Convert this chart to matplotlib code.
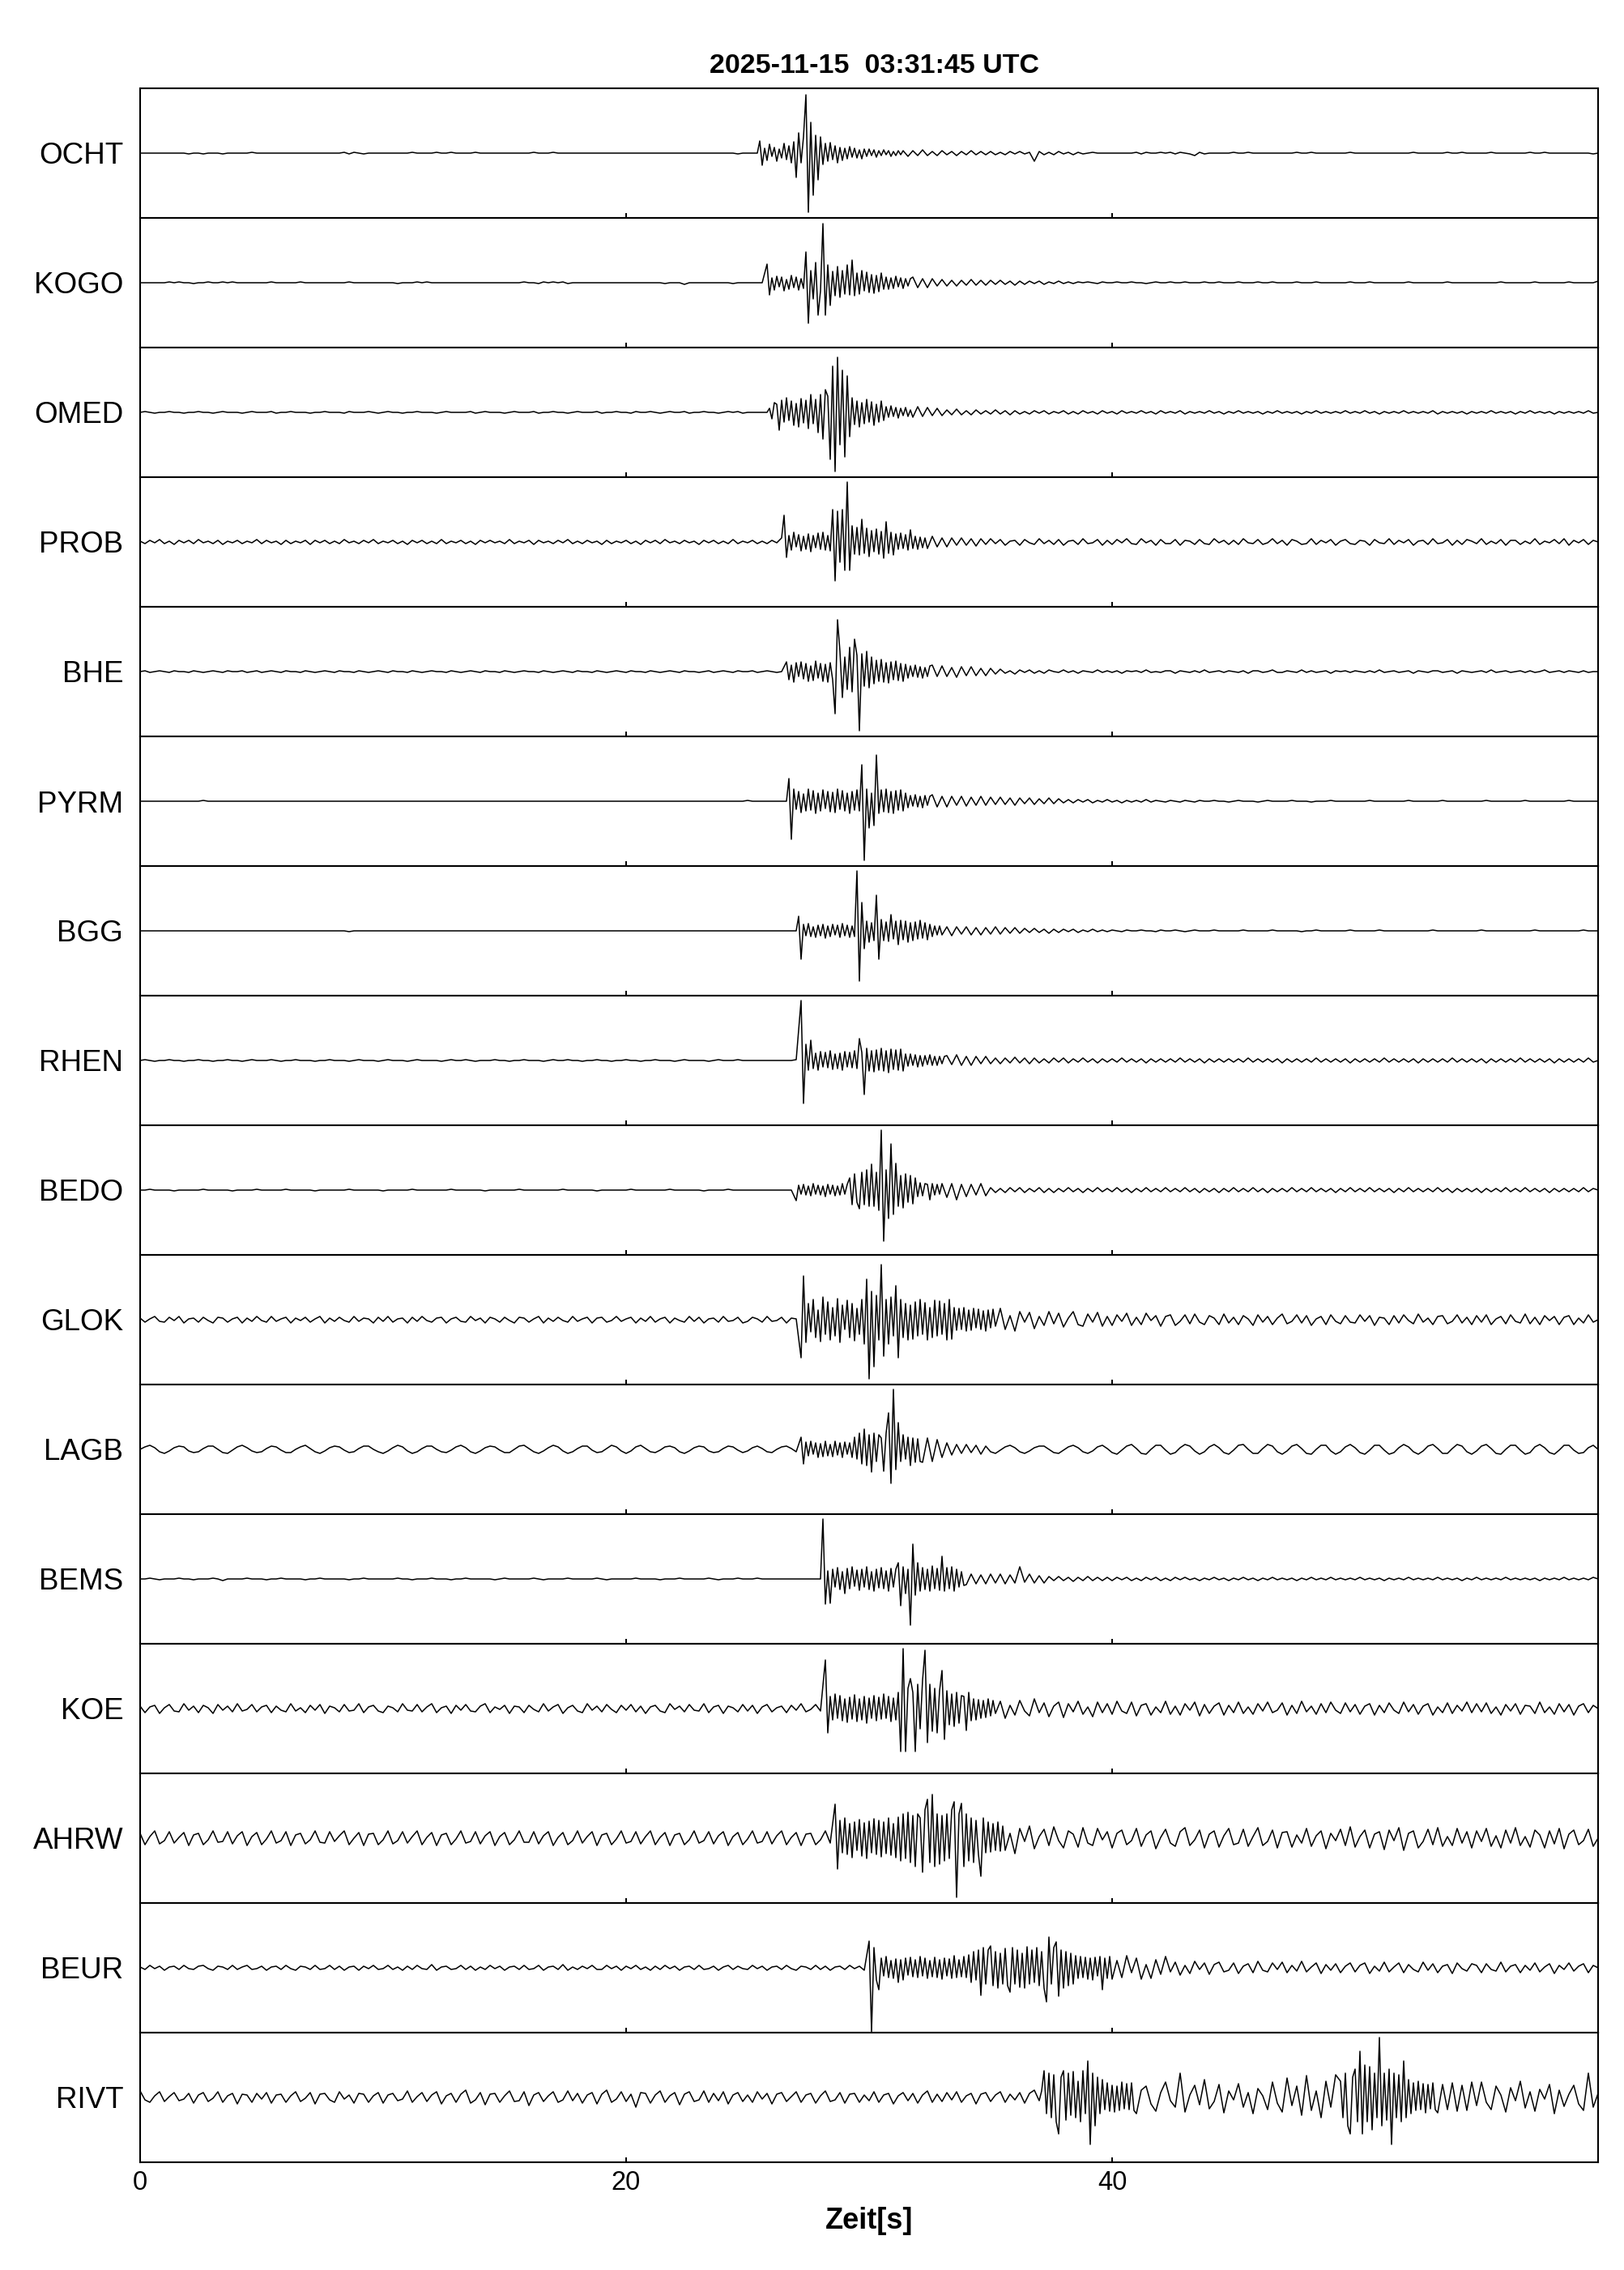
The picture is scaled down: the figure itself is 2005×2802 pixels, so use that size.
import numpy as np
import matplotlib
matplotlib.use("Agg")
import matplotlib.pyplot as plt

TITLE = "2025-11-15  03:31:45 UTC"
XLABEL = "Zeit[s]"
XTICKS = [0, 20, 40]
T_END = 60.0
DT_FINE = 0.1
STATIONS = ["OCHT", "KOGO", "OMED", "PROB", "BHE", "PYRM", "BGG", "RHEN",
            "BEDO", "GLOK", "LAGB", "BEMS", "KOE", "AHRW", "BEUR", "RIVT"]

# Trace deflections, one value every 0.2 s from 0 to 60 s
# (units: pixels of the original image, panel half-height = 80)
OCHT = [
 0,0,0,0,0, 0,0,0,0,0, -1,0,0,-1,0, 0,0,-1,0,0, 0,0,0,1,0,
 0,0,0,0,0, 0,0,0,0,0, 0,0,0,0,0, 0,0,1,-1,1, 0,-1,0,0,0,
 0,0,0,0,0, 0,1,0,0,0, 0,1,0,0,1, 0,0,0,0,1, 0,0,0,0,0,
 0,0,0,0,0, 0,1,0,0,0, 1,0,0,0,0, 0,0,0,0,0, 0,0,0,0,0,
 0,0,0,0,0, 0,0,0,0,0, 0,0,0,0,0, 0,0,0,0,0, 0,0,0,-1,0,
 0,0,13,-15,9, -7,8,-9,5,12, -30,25,72,-73,38, -52,20,-33,15,-12, 11,-10,8,-9,7,
 -6,5,-6,4,-5, 5,-4,3,-4,3, -3,4,-3,2,-3, 3,-2,2,-3,2, -2,3,-2,2,-2,
 2,-2,1,-2,2, -1,2,-1,1,-10, 2,-2,1,-2,2, -1,1,-2,1,-1, 0,1,0,0,0,
 0,0,0,0,0, 1,-1,1,0,0, 1,0,1,-1,1, 0,-1,-3,1,-1, 0,0,0,0,0,
 1,0,0,1,0, 0,0,0,0,0, 0,0,0,1,0, 0,1,0,0,0, 0,0,0,0,1,
 0,0,0,0,0, 0,0,0,0,0, 0,0,1,0,0, 0,0,0,0,1, 0,0,1,0,0,
 0,0,0,1,0, 0,0,0,0,0, 0,1,0,0,1, 0,0,0,0,0, 0,0,0,0,-1,
 0]

KOGO = [
 0,0,0,0,0, 0,1,0,1,0, 0,-1,0,0,1, 0,0,1,0,1, 0,0,0,0,0,
 0,0,1,0,0, 0,0,0,1,0, 0,0,0,0,0, 0,0,0,1,0, 0,0,0,0,0,
 0,0,0,-1,0, 0,0,1,0,1, 0,0,0,0,0, 0,0,0,0,0, 0,0,0,0,0,
 0,0,0,0,1, 0,0,-1,1,0, 1,0,1,-1,0, 0,0,0,0,0, 0,0,0,0,0,
 0,0,0,0,0, 0,0,0,-1,0, 0,0,-2,0,0, 0,0,0,0,0, 0,0,-1,0,0,
 0,0,0,0,23, -15,8,-9,7,-8, 9,-7,38,-50,22, -40,73,-38,22,-28, 20,-18,28,-15,14,
 -13,12,-12,14,-10, 9,-9,8,-8,7, -6,5,-6,5,-4, 4,-4,3,-4,3, -3,4,-3,3,-3,
 3,-2,3,-2,2, -3,2,-2,2,-1, 2,-2,1,-1,2, -1,1,-1,1,0, 1,0,-1,1,0,
 0,1,0,0,1, 0,0,-1,0,1, 0,0,1,0,0, 1,0,0,0,1, 0,0,1,0,0,
 0,1,0,0,0, 1,0,0,1,0, 0,0,0,1,0, 0,0,1,0,0, 0,0,0,0,1,
 0,0,0,1,0, 0,0,0,0,0, 0,1,0,0,0, 0,0,0,0,1, 0,0,0,0,0,
 0,0,0,0,0, 1,0,0,0,0, 0,0,1,0,0, 0,0,0,0,1, 0,0,0,0,0,
 2]

OMED = [
 0,1,0,-1,0, 0,1,0,0,-1, 0,0,1,0,0, -1,0,1,0,0, 0,-1,0,1,0,
 0,0,1,-1,0, 0,1,0,0,0, -1,0,0,1,0, 0,0,-1,1,0, 0,0,1,0,-1,
 0,1,0,0,-1, 0,0,1,0,0, 0,-1,0,1,0, 0,0,0,1,-1, 0,1,0,0,0,
 -1,0,1,0,0, 0,1,-1,0,0, 1,0,0,-1,0, 1,0,0,0,1, -1,0,0,1,0,
 0,-1,1,0,0, 1,0,-1,0,1, 0,0,1,-1,0, 0,1,0,0,-1, 0,1,0,1,-1,
 0,0,0,0,1, 12,-15,22,-22,15, -18,17,-14,18,-20, 22,-33,30,-58,68, -73,57,-45,30,-18,
 17,-15,14,-18,12, -10,8,-7,6,-6, 7,-5,6,-4,5, -4,3,-3,4,-3, 2,-3,3,-2,2,
 -2,3,-2,2,-3, 2,-2,1,-2,2, -1,2,-2,1,-1, 2,-2,1,-2,2, -1,1,-2,2,-1,
 1,-2,2,-1,1, -1,2,-1,1,-2, 2,-1,1,-1,2, -2,1,-1,1,-1, 2,-1,1,-2,1,
 -1,2,-1,1,-1, 1,-2,1,-1,2, -1,1,-1,1,-2, 1,-1,2,-1,1, -1,1,-1,2,-1,
 1,-1,2,-1,1, -2,1,-1,1,-1, 2,-1,1,-1,1, -1,2,-2,1,-1, 1,-1,1,-2,1,
 -1,1,-1,2,-1, 1,-1,1,-2,1, -1,2,-1,1,-1, 1,-2,1,-1,1, -1,1,-1,2,-1,
 0]

PROB = [
 1,-2,2,-1,3, -2,1,-3,2,-1, 2,-2,3,-1,1, -2,2,-3,1,-1, 2,-2,1,-1,3,
 -2,2,-1,1,-3, 2,-2,1,-1,2, -3,2,-1,2,-2, 1,-2,3,-1,1, -2,2,-1,3,-2,
 1,-1,2,-2,1, -3,2,-1,2,-2, 1,-2,3,-2,1, -1,2,-2,1,-3, 2,-1,2,-1,1,
 -2,3,-2,1,-1, 2,-3,2,-1,1, -2,2,-1,3,-2, 1,-2,2,-1,1, -3,2,-2,1,-1,
 2,-2,1,-3,2, -1,2,-2,3,-1, 1,-2,2,-1,1, -3,2,-1,2,-2, 1,-2,3,-2,1,
 -1,2,-2,1,-2, 2,-1,33,-19,10, -9,11,-12,8,-10, 9,-12,10,40,-48, 74,-35,20,-15,28,
 -14,12,-16,25,-20, 14,-12,10,-11,8, -9,17,-8,7,-6, 5,-6,5,-4,5, -4,4,-5,4,-3,
 4,-2,3,-4,1, 2,-4,3,-1,-3, 4,-2,2,-3,3, -4,1,2,-3,4, -2,-1,3,-4,2,
 -3,3,-1,4,-2, -3,4,-1,2,-4, 3,-2,-2,3,-4, 2,1,-3,3,-2, -3,4,-1,2,-3,
 2,-3,4,-1,-2, 3,-3,-1,4,-2, 2,-4,3,1,-3, -2,4,-3,2,-1, 3,-4,1,3,-2,
 -3,2,1,-4,3, -1,-2,4,-3,2, -1,3,-4,1,2, -3,4,-2,-1,3, -4,2,-3,3,1,
 -2,4,-3,1,-2, 3,-4,2,2,-3, 1,-2,4,-3,1, -1,3,-2,4,-4, 2,-1,3,-3,2,
 0]

BHE = [
 0,1,-1,0,1, 0,-1,1,0,0, -1,1,0,-1,0, 1,0,-1,1,0, 0,1,-1,0,1,
 -1,0,1,0,-1, 1,0,0,-1,1, 0,-1,0,1,0, -1,1,0,0,-1, 1,0,-1,0,1,
 0,-1,1,0,0, -1,1,0,-1,0, 1,0,0,-1,1, 0,-1,0,1,0, -1,1,0,0,-1,
 1,0,-1,0,1, 0,0,-1,1,0, -1,0,1,0,-1, 1,0,0,-1,1, 0,-1,0,1,0,
 -1,1,0,0,-1, 1,0,-1,0,1, 0,-1,1,0,0, -1,0,1,-1,0, 1,0,-1,1,0,
 0,1,-1,0,1, 0,-1,0,12,-10, 11,-12,10,-13,12, -11,13,-12,64,-52, 30,-32,40,-73,20,
 -20,15,-14,12,-15, 13,-10,11,-8,7, -8,6,-7,8,-6, 7,-6,5,-7,6, -5,6,-5,4,-5,
 4,-3,3,-2,1, -3,2,-1,2,-2, 1,-2,2,0,-1, 2,-1,1,-2,1, 0,-1,2,-1,1,
 -1,1,-2,1,0, 1,-1,2,-1,0, -1,1,1,-2,1, 0,-1,1,-1,2, -1,0,1,-1,1,
 0,-1,1,-2,1, 1,-1,0,2,-1, -1,1,0,-1,2, -1,1,-1,0,1, -2,1,0,1,-1,
 1,0,-1,1,-1, 2,-1,0,1,-1, 0,1,-2,1,0, -1,1,1,-1,0, 1,-2,1,0,-1,
 0,1,-1,2,-1, 0,1,-1,0,1, -1,1,-1,0,2, -1,0,1,-1,1, 0,-1,1,-1,0,
 0]

PYRM = [
 0,0,0,0,0, 0,0,0,0,0, 0,0,0,1,0, 0,0,0,0,0, 0,0,0,0,0,
 0,0,0,0,0, 0,0,0,0,0, 0,0,0,0,0, 0,0,0,0,0, 0,0,0,0,0,
 0,0,0,0,0, 0,0,0,0,0, 0,0,0,0,0, 0,0,0,0,0, 0,0,0,0,0,
 0,0,0,0,0, 0,0,0,0,0, 0,0,0,0,0, 0,0,0,0,0, 0,0,0,0,0,
 0,0,0,0,0, 0,0,0,0,0, 0,0,0,0,0, 0,0,0,0,0, 0,0,0,0,0,
 1,0,0,0,0, 0,0,0,28,-47, 15,-12,14,-10,13, -15,11,-13,14,-12, 12,-14,15,-12,45,
 -73,57,-33,15,-15, 14,-13,12,-8,7, -8,7,-6,8,-7, 6,-7,6,-5,6, -6,5,-5,6,-5,
 5,-4,5,-4,4, -5,4,-3,4,-4, 3,-3,4,-3,3, -2,2,-2,2,-1, 2,-2,1,-1,2,
 -1,1,-2,1,-1, 1,-1,2,-1,1, 0,-1,1,0,-1, 1,0,-1,1,0, 0,1,0,0,-1,
 0,1,0,0,0, -1,0,1,0,0, 0,0,1,0,0, 0,-1,0,0,0, 1,0,0,0,0,
 0,0,0,1,0, 0,0,0,0,0, 0,1,0,0,0, 0,0,0,1,0, 0,0,0,0,0,
 0,0,1,0,0, 0,0,0,0,0, 1,0,0,0,0, 0,0,0,0,1, 0,0,0,0,0,
 0]

BGG = [
 0,0,0,0,0, 0,0,0,0,0, 0,0,0,0,0, 0,0,0,0,0, 0,0,0,0,0,
 0,0,0,0,0, 0,0,0,0,0, 0,0,0,0,0, 0,0,0,-1,0, 0,0,0,0,0,
 0,0,0,0,0, 0,0,0,0,0, 0,0,0,0,0, 0,0,0,0,0, 0,0,0,0,0,
 0,0,0,0,0, 0,0,0,0,0, 0,0,0,0,0, 0,0,0,0,0, 0,0,0,0,0,
 0,0,0,0,0, 0,0,0,0,0, 0,0,0,0,0, 0,0,0,0,0, 0,0,0,0,0,
 0,0,0,0,0, 0,0,0,0,0, 18,-35,8,-7,9, -8,7,-9,8,-6, 8,-7,74,-62,35,
 -22,44,-35,12,20, -17,12,-13,11,-12, 10,-11,10,-9,6, -5,5,-6,5,-4, 5,-5,4,-5,4,
 -4,5,-4,4,-3, 4,-3,3,-2,3, -2,2,-3,2,-2, 2,-1,2,-2,1, -1,2,-1,1,-1,
 1,0,-1,1,0, 0,1,0,0,-1, 1,0,0,1,0, -1,0,1,0,0, 0,1,0,0,0,
 0,0,1,0,0, 0,0,0,1,0, 0,0,0,0,-1, 0,0,1,0,0, 0,0,0,0,1,
 0,0,0,0,0, 1,0,0,0,0, 0,0,0,0,0, 0,1,0,0,0, 0,0,0,0,0,
 0,1,0,0,0, 0,0,0,0,0, 0,0,1,0,0, 0,0,0,0,0, 0,0,1,0,0,
 0]

RHEN = [
 0,1,0,-1,0, 0,1,0,0,-1, 0,0,1,0,0, -1,0,0,1,0, 0,-1,0,1,0,
 0,0,1,0,-1, 0,0,1,0,0, 0,-1,0,0,1, 0,0,0,-1,0, 1,0,0,0,-1,
 0,1,0,0,0, -1,0,1,0,0, 0,0,-1,0,1, 0,0,1,0,-1, 0,0,0,1,0,
 0,-1,0,0,1, 0,0,0,-1,0, 1,0,0,1,0, 0,-1,0,0,1, 0,0,-1,0,0,
 1,0,0,-1,0, 0,1,0,0,0, -1,0,1,0,0, 0,0,-1,0,1, 0,0,0,1,0,
 0,0,0,0,0, 0,0,0,0,0, 1,74,-53,25,-12, 10,-11,12,-10,9, -12,11,-9,27,-42,
 15,-13,12,-14,13, -12,15,-13,8,-7, 8,-6,7,-8,6, -7,6,-5,7,-6, 5,-6,5,-4,5,
 -4,3,-4,3,-3, 4,-3,3,-4,3, -3,2,-3,3,-2, 3,-3,2,-2,3, -2,2,-3,2,-2,
 2,-2,3,-2,2, -2,2,-3,2,-2, 2,-2,2,-2,3, -2,2,-2,2,-3, 2,-2,2,-2,2,
 -2,2,-2,3,-2, 2,-2,2,-2,2, -3,2,-2,2,-2, 2,-2,3,-2,2, -2,2,-2,2,-3,
 2,-2,2,-2,2, -2,3,-2,2,-2, 2,-2,2,-3,2, -2,2,-2,2,-2, 3,-2,2,-2,2,
 -2,2,-3,2,-2, 2,-2,2,-2,3, -2,2,-2,2,-2, 2,-3,2,-2,2, -2,2,-2,3,-2,
 0]

BEDO = [
 0,0,1,0,0, 0,0,-1,0,0, 0,0,0,1,0, 0,0,0,0,-1, 0,0,0,0,1,
 0,0,0,0,0, 1,0,0,0,0, 0,-1,0,0,0, 0,0,0,1,0, 0,0,0,0,0,
 -1,0,0,0,0, 0,1,0,0,0, 0,0,0,0,1, 0,0,0,0,0, 0,-1,0,0,0,
 0,0,0,1,0, 0,0,0,0,0, 0,0,1,0,0, 0,0,0,0,-1, 0,0,0,0,0,
 0,1,0,0,0, 0,0,0,0,1, 0,0,0,0,0, 0,-1,0,0,0, 0,1,0,0,0,
 0,0,0,0,0, 0,0,0,0,0, -13,6,-5,7,-6, 5,-7,6,-5,6, -6,15,-18,20,-23,
 32,-20,22,74,-63, 57,-35,33,-30,20, -22,9,-8,8,-7, 8,-9,8,-12,7, -8,7,-6,8,-7,
 3,-3,2,-3,3, -2,3,-3,2,-2, 3,-3,2,-3,2, -2,3,-2,2,-3, 2,-2,3,-2,2,
 -2,3,-2,2,-3, 2,-2,3,-2,2, -2,3,-2,2,-2, 3,-2,2,-3,2, -2,2,-3,2,-2,
 3,-2,2,-2,3, -2,2,-3,2,-2, 2,-2,3,-2,2, -2,3,-2,2,-2, 2,-3,2,-2,3,
 -2,2,-2,3,-2, 2,-2,2,-3,2, -2,3,-2,2,-2, 2,-2,3,-2,2, -3,2,-2,2,-2,
 2,-3,2,-2,2, -2,3,-2,2,-2, 3,-2,2,-2,2, -3,2,-2,2,-2, 2,-2,3,-2,2,
 0]

GLOK = [
 2,-3,1,4,-2, -3,3,-1,4,-4, 1,2,-3,3,-1, -4,3,2,-3,1, 3,-4,2,-2,4,
 -1,-3,4,-2,1, 3,-4,2,-1,3, -3,1,4,-4,2, -2,3,-1,-3,4, -2,2,1,-4,3,
 -2,4,-3,1,2, -4,3,-2,4,-1, -3,2,3,-4,1, 3,-2,-3,4,-1, 2,-4,3,1,-3,
 3,-1,-4,3,2, -3,1,4,-4,2, -2,3,-1,-3,4, -2,1,3,-4,2, 3,-3,-1,4,-2,
 1,3,-4,2,-2, 4,-3,1,3,-4, 2,-1,-3,4,-2, 3,-4,1,2,-3, 4,-2,-1,3,-4,
 -2,3,1,-3,4, -2,-1,3,-4,2, 1,-47,54,-28,25, -27,28,-22,26,-28, 22,-26,24,-25,50,
 -73,40,-58,68,-45, 42,-47,25,-22,23, -25,20,-22,24,-20, 21,-23,25,-24,15, -13,14,-12,15,-14,
 13,-8,14,-12,5, -14,10,-3,9,-11, 4,-7,10,-5,8, -9,2,10,-6,-8, 7,-3,9,-8,4,
 -7,6,-2,8,-7, 3,-6,8,-1,5, -8,4,6,-7,-2, 6,-5,7,-3,-6, 5,2,-6,7,-4,
 3,-6,5,1,-7, 6,-3,4,-6,2, 7,-5,-2,6,-4, 5,-7,1,4,-6, 6,-2,-5,5,-3,
 -4,6,-2,5,-7, 3,2,-6,5,-4, 6,-1,-5,7,-3, 2,-6,4,5,-5, -2,6,-4,3,-6,
 5,-3,6,-6,1, 4,-5,6,-2,-4, 7,-5,3,-6,5, -1,4,-6,3,5, -6,2,-4,6,-3,
 0]

LAGB = [
 0,3,5,2,-3, -5,-2,2,4,3, -2,-4,-3,1,4, 4,0,-4,-5,-1, 3,5,2,-2,-4,
 -3,1,4,3,-1, -4,-4,0,3,5, 1,-3,-5,-2,2, 4,3,-1,-4,-3, 1,4,4,0,-3,
 -5,-2,2,5,3, -2,-5,-3,1,4, 4,0,-3,-4,-1, 3,5,2,-3,-5, -2,2,4,3,-1,
 -4,-4,0,4,5, 1,-3,-5,-2,2, 5,3,-2,-5,-3, 1,4,4,-1,-4, -3,1,5,3,-2,
 -5,-2,3,5,1, -3,-4,-1,3,4, 2,-3,-5,-2,2, 4,3,-2,-4,-3, 1,4,3,-1,-4,
 -2,2,4,1,-3, -4,0,3,4,1, -3,15,-18,9,-8, 10,-9,8,-10,9, -8,10,-15,16,-20,
 18,-28,20,-27,45, -42,74,-25,33,-20, 15,-16,14,-15,12, -10,8,-7,6,-5, 6,-4,5,-6,4,
 -3,-5,-1,3,5, 2,-3,-5,-2,2, 4,4,0,-4,-5, -1,3,5,2,-3, -5,-2,3,5,1,
 -4,-6,-1,4,6, 1,-5,-6,0,5, 5,-1,-6,-4,2, 6,4,-2,-6,-3, 3,6,2,-4,-6,
 -1,5,6,0,-5, -5,1,6,4,-3, -6,-2,4,6,1, -5,-6,0,5,5, -2,-6,-3,3,6,
 2,-4,-6,-1,5, 5,-1,-6,-4,2, 6,3,-3,-6,-2, 4,6,1,-5,-5, 1,6,4,-3,-6,
 -2,4,6,1,-5, -6,0,5,5,-1, -6,-4,3,6,2, -4,-6,-1,5,5, -1,-5,-4,2,5,
 0]

BEMS = [
 0,0,1,0,-1, 0,0,0,1,0, 0,-1,0,0,0, 1,0,-2,0,0, 0,0,1,0,0,
 0,-1,0,0,1, 0,0,0,0,-1, 0,0,1,0,0, 0,0,0,-1,0, 0,1,0,0,0,
 0,0,0,1,0, 0,-1,0,0,0, 1,0,0,0,-1, 0,0,1,0,0, 0,0,0,-1,0,
 1,0,0,0,0, 0,1,0,-1,0, 0,0,0,1,0, 0,0,0,0,1, 0,-1,0,0,0,
 0,0,1,0,0, 0,0,-1,0,0, 0,1,0,0,0, 0,0,1,0,-1, 0,0,0,1,0,
 0,0,1,0,0, 0,0,0,0,0, 0,0,0,0,0, -1,74,-31,12,-15, 14,-12,13,-18,15,
 -14,12,-13,14,-12, 13,20,-33,15,-57, 43,-15,14,-13,12, 28,-15,14,-15,12, -7,6,-6,5,-6,
 6,-5,6,-6,5, -5,15,-4,6,-5, 4,-5,3,-2,3, -2,2,-3,2,-2, 3,-2,2,-2,2,
 -2,2,-1,2,-2, 1,-2,2,-1,2, -2,1,-2,2,-1, 2,-1,1,-2,1, -1,2,-1,1,-2,
 1,-1,2,-1,1, -2,1,-1,2,-1, 1,-1,1,-2,1, -1,2,-1,1,-1, 2,-1,1,-1,1,
 -1,2,-1,1,-1, 1,-2,1,-1,1, -1,2,-1,1,-1, 1,-1,2,-1,1, -1,1,-2,1,-1,
 2,-1,1,-1,1, -1,2,-1,1,-1, 1,-1,1,-2,1, -1,1,-1,2,-1, 1,-1,1,-1,2,
 0]

KOE = [
 3,-5,2,4,-6, 1,5,-3,-4,6, -2,3,-5,4,1, -6,5,-2,3,-4, 6,-3,-1,5,-4,
 2,4,-5,3,-2, -4,6,-3,1,-5, 4,-2,5,-6,3, 1,-4,5,-3,-2, 6,-5,2,4,-3,
 -5,3,1,-4,6, -2,-3,5,-4,2, 6,-5,1,3,-6, 4,-2,5,-3,-4, 3,6,-5,2,-1,
 4,-6,3,2,-5, 4,-1,-4,6,-3, 2,5,-6,1,4, -3,-5,6,-2,3, -4,5,-1,-5,4,
 -2,5,-4,3,-6, 2,4,-3,-5,6, -1,3,-4,5,-2, -3,6,-5,2,4, -6,3,1,-4,5,
 -3,4,-6,2,5, -4,1,3,-5,4, -2,6,-4,-1,5, -3,60,-30,15,-14, 16,-12,17,-15,14,
 -16,13,-17,15,-12, 16,-53,74,-53,37, -53,72,-42,30,-28, 47,-38,22,-20,18, -27,20,-15,12,-10,
 11,-6,9,-12,4, -8,10,-3,-9,12, -5,7,-10,3,8, -11,6,-4,9,-7, 2,-10,8,-5,6,
 -7,9,-3,-6,8, -9,4,6,-8,2, -5,9,-7,3,-8, 6,-2,8,-9,5, -6,3,7,-8,4,
 -5,8,-6,2,-7, 6,-3,8,-5,-2, 7,-8,4,-6,9, -4,3,-7,6,-5, 8,-2,-6,7,-4,
 5,-7,3,6,-8, 4,-5,7,-2,-6, 8,-4,5,-7,3, 6,-8,2,-5,7, -6,4,-3,8,-5,
 6,-4,7,-6,2, -8,5,-3,6,-7, 4,3,-6,8,-5, 2,-7,6,-4,5, -8,3,6,-5,4,
 0]

AHRW = [
 6,-8,2,9,-7, -3,8,-6,1,7, -9,4,6,-8,-2, 9,-5,-4,8,-7, 3,8,-9,2,7,
 -8,-1,9,-6,-3, 8,-9,4,6,-7, -2,9,-5,-6,8, -4,3,9,-8,0, 7,-9,5,6,-8,
 -2,9,-7,-3,8, -6,2,9,-8,1, 7,-9,4,6,-8, -1,9,-6,-4,8, -7,3,8,-9,2,
 7,-8,-2,9,-5, -5,8,-7,3,8, -9,1,7,-8,-3, 9,-6,2,8,-9, 4,6,-8,-1,9,
 -6,-4,8,-7,2, 9,-8,1,7,-9, 4,6,-8,-2,9, -6,-3,8,-7,3, 8,-9,2,7,-8,
 -1,9,-6,-4,8, -7,3,9,-8,1, 7,-9,5,6,-8, -2,9,-6,42,-38, 22,-24,20,-23,25,
 -21,24,-22,20,-25, 23,-30,32,-28,30, -42,48,-35,54,-30, 35,-28,45,-73,43, -30,30,-25,20,-47,
 18,-10,22,-15,6, -19,12,-4,15,-13, 2,11,-9,14,-3, -12,9,5,-11,13, -6,-9,12,-2,8,
 -12,6,10,-8,-3, 12,-10,4,9,-13, 1,11,-6,-10,8, 13,-9,-2,10,-12, 5,9,-11,3,12,
 -8,-6,11,-10,2, 13,-9,-4,10,-12, 7,8,-11,4,-6, 12,-10,3,9,-13, 6,-3,11,-9,14,
 -11,2,10,-12,5, 8,-14,10,-3,13, -15,6,9,-12,-4, 11,-8,13,-10,2, -9,12,-6,8,-12,
 9,-4,12,-10,3, -12,10,-6,13,-9, 2,-11,10,4,-12, 9,-7,12,-13,5, 10,-8,-3,11,-10,
 0]

BEUR = [
 1,-2,3,-1,2, -3,1,2,-2,3, -1,-2,2,3,-1, -3,2,1,-2,3, -2,1,3,-2,-1,
 2,-3,1,2,-2, 3,-1,-3,2,1, -2,3,-2,-1,3, -2,2,-3,1,2, -3,2,-1,3,-2,
 -1,3,-2,1,-3, 2,-2,3,-1,-2, 4,-3,1,2,-2, -1,3,-2,2,-3, 1,-2,3,-1,2,
 -3,1,2,-2,3, -2,-1,3,-3,1, 2,-2,4,-3,1, -2,2,-1,3,-2, -2,3,-1,2,-3,
 2,-1,3,-2,1, -3,2,-2,3,-1, 2,-3,1,2,-2, 3,-2,-1,2,-3, 1,3,-2,2,-1,
 -2,3,-1,2,-3, 1,2,-2,3,-1, -3,2,1,-2,3, -2,2,-3,1,2, -2,3,-1,2,-3,
 33,-79,15,-27,12, -14,13,-10,11,-13, 12,-11,14,-12,10, -13,12,-11,13,-10, 12,-14,15,-34,20,
 27,-22,20,-25,18, -30,22,-24,25,-20, 22,-42,38,-34,32, -25,20,-18,15,-14, 12,-13,14,-27,12,
 -14,9,-12,15,-6, 12,-14,4,-13,10, -8,14,-5,7,-9, 3,-7,8,-2,6, -8,4,7,-5,-3,
 6,-7,2,5,-6, 8,-3,-5,6,-2, 7,-6,3,-4,8, -5,1,6,-7,4, -3,5,-6,2,6,
 -5,3,6,-7,2, -4,7,-5,1,6, -6,4,-2,-5,7, -3,5,-6,2,4, -7,6,-1,-4,5,
 3,-6,5,-2,-4, 7,-5,2,4,-6, 3,-3,6,-5,1, 5,-7,3,-2,6, -4,2,5,-6,3,
 0]

RIVT = [
 8,-3,-6,2,7, -5,1,6,-4,-2, 5,-7,3,6,-5, -1,7,-6,2,5, -8,4,3,-6,5,
 -2,6,-7,3,4, -6,2,7,-5,-1, 6,-8,4,5,-3, -6,7,-2,3,-7, 5,4,-6,2,6,
 -7,3,5,-4,-2, 8,-6,1,6,-5, 3,7,-8,2,5, -6,4,9,-7,-3, 6,-9,4,5,-6,
 2,8,-5,-4,7, -10,3,6,-5,2, 7,-6,-3,8,-4, 5,-7,3,6,-8, 4,9,-6,-2,7,
 -5,4,-12,6,5, -7,3,8,-6,2, 6,-9,4,7,-5, -3,8,-6,5,-4, 7,-8,3,6,-5,
 3,-6,7,-2,5, -8,4,6,-5,1, 7,-6,3,5,-7, 2,8,-5,-3,6, -7,4,5,-6,3,
 -4,7,-6,3,5, -8,2,6,-4,5, -7,3,8,-6,4, -5,6,-3,7,-6, 2,5,-8,4,6,
 -5,3,7,-6,4, -3,6,-7,5,9, -4,33,-30,28,-45, 30,-35,32,-28,35, -58,45,-25,22,-20,
 12,-6,18,-15,4, -20,9,14,-8,-17, 6,19,-4,-12,30, -18,3,15,-9,22, -14,-5,16,-19,8,
 -3,17,-12,6,-20, 11,2,-15,19,-7, -18,24,-10,14,-22, 27,-16,8,-25,20, -12,28,-30,18,-40,
 57,-45,38,-35,40, -30,74,-40,35,-58, 40,-35,30,-28,20, -18,17,-19,16,-15, 18,-17,15,-16,19,
 -10,19,-6,-15,14, 3,-18,12,-4,20, -13,7,-17,10,-2, 16,-20,9,-11,4, 15,-8,-16,30,-12,
 5]

# Finer readings (every 0.1 s) of the strongest parts of each trace
OCHT_F = [0,15,-15,6,-9, 11,-4,7,-10,5, -6,12,-8,9,-12, 14,-30,25,-12,20,
          72,-73,38,-52,22, -33,20,-14,12,-10, 13,-8,9,-12,7, -9,6,-7,8,-5,
          6,-6,4,-7,5, -4,5,-3,4,-5, 3,-3,4,-2,3, -4,2,-3,3,-2]
KOGO_F = [23,-15,6,-9,8, -5,7,-10,4,-8, 9,-6,7,-9,5, -7,38,-50,15,-20,
          25,-40,-10,73,-40, 22,-28,14,-16,20, -18,15,-14,22,-15, 28,-16,12,-14,15,
          -10,13,-12,10,-13, 9,-11,12,-8,7, -8,6,-7,8,-5, 6,-7,5,-4,5]
OMED_F = [0,5,-8,12,10, -22,15,-12,18,-10, 14,-16,11,-18,17, -13,15,-20,22,-14,
          16,-25,22,-33,28, 20,-58,57,-73,68, -40,52,-55,45,-30, 18,-15,14,-18,12,
          -14,16,-12,13,-16, 10,-12,14,-10,7, -6,8,-5,6,-7, 5,-4,6,-5,3]
PROB_F = [5,33,-19,8,-10, 12,-6,9,-11,7, -9,10,-12,8,-7, 11,-9,12,-10,8,
          -11,40,-48,38,-25, 40,-35,74,-35,20, -15,18,-16,28,-14, 17,-18,14,-12,16,
          -15,13,-20,25,-14, 12,-16,10,-9,11, -8,9,-10,15,-8, 7,-9,6,-7,5]
BHE_F = [12,-10,8,-13,11, -6,12,-9,10,-12, 7,-11,13,-8,10, -12,9,-13,11,-10,
         -52,64,25,-32,18, -22,30,-25,40,20, -73,22,-18,25,-20, 18,-15,14,-12,15,
         -13,11,-14,12,-10, 13,-11,10,-12,9, -8,7,-6,8,-7, 6,-8,5,-6,7]
PYRM_F = [0,28,-47,15,-10, 12,-14,9,-12,15, -11,13,-15,10,-12, 14,-9,12,-13,11,
          -14,15,-10,13,-12, 10,-15,12,-11,14, -12,45,-73,15,-33, 10,-30,57,-15,14,
          -13,15,-14,12,-15, 13,-11,14,-12,10, -8,7,-6,8,-7, 6,-8,7,-5,6]
BGG_F = [0,18,-35,8,-6, 9,-7,5,-8,7, -6,8,-9,6,-7, 8,-5,7,-8,9,
         -6,7,-8,6,-7, 74,-62,35,-22,12, -14,10,-12,44,-35, 14,-12,11,-13,20,
         -10,12,-17,13,-11, 12,-14,10,-12,11, -10,13,-9,10,-11, 8,-7,6,-5,6]
RHEN_F = [74,-53,20,-12,25, -10,9,-12,11,-8, 10,-9,12,-11,8, -10,9,-12,11,-8,
          10,-9,12,-10,27, 10,-42,15,-13,12, -14,13,-12,15,-13, 12,-15,14,-11,13,
          -12,14,-13,8,-7, 8,-6,7,-8,6, -7,6,-5,7,-6, 5,-6,5,-4,5]
BEDO_F = [-13,6,-5,7,-6, 5,-7,8,-5,6, -6,5,-8,7,-5, 6,-7,5,-6,8,
          -5,7,15,-18,20, -15,-23,22,-18,25, -20,32,-20,22,-25, 74,-63,25,-35,57,
          -30,33,-20,18,-22, 20,-15,18,-17,15, -8,9,-7,8,7, -12,8,-6,7,-5]
GLOK_F = [-47,54,-28,20,-15, 25,-22,12,-27,28, -18,22,-25,15,-20, 26,-28,18,-12,24,
          -22,20,-26,14,-18, 25,-30,50,-73,35, -58,30,-25,68,-45, 25,-30,28,-20,42,
          -47,25,-22,20,-25, 18,-24,22,-20,25, -18,21,-25,15,-22, 24,-20,23,-18,20,
          -25,25,-24,15,-13, 14,-12,15,-14,12, -13,14,-10,13,-12, 11,-14,12,-10,13]
LAGB_F = [15,-18,9,-8,10, -6,8,-10,7,-9, 10,-8,6,-9,10, -7,8,-10,9,-6,
          8,-10,15,-12,20, -18,25,-20,18,-28, 20,-15,18,14,-27, 20,45,-42,74,-25,
          33,-15,18,-12,15, -20,14,-16,13,-15]
BEMS_F = [0,74,-31,10,-30, 12,-10,14,-13,9, -18,13,-12,15,-9, 11,-14,12,-10,15,
          -13,9,-15,12,-11, 14,-12,10,-15,13, -10,12,20,-33,15, -18,12,-57,43,-20,
          20,-15,14,-13,12, -15,16,-12,13,-14, 28,-15,14,-12,15, -15,12,-10,9,-8]
KOE_F = [60,-30,15,-14,18, -12,16,-15,12,-17, 14,-13,17,-16,12, -14,15,-18,13,-12,
         16,-15,14,-13,18, -12,15,-16,13,-14, 20,-53,74,-53,25, 37,20,-53,30,-25,
         35,72,-42,30,-28, 25,-30,22,47,-38, 22,-20,18,-22,20, -18,16,15,-27,20,
         -15,12,-14,11,-12, 10,-11,12,-9,10]
AHRW_F = [42,-38,22,-18,25, -20,18,-24,20,-15, 23,-22,19,-25,21, -18,24,-20,22,-23,
          20,-19,25,-21,18, -24,26,-28,30,-25, 32,-30,28,-35,30, 25,-42,35,48,-30,
          54,-35,30,-32,28, -28,30,-25,35,45, -73,30,43,-35,30, -28,25,-30,22,-20,
          -47,25,-18,20,-17, 18,-15,20,-16,15]
BEUR_F = [33,-79,25,-15,-27, 12,-10,14,-12,9, -13,11,-18,10,-15, 12,-9,13,-11,10,
          -12,14,-10,12,-13, 9,-11,13,-12,10, -14,12,-10,11,-13, 15,-12,10,-11,14,
          -12,16,-18,20,-15, 22,-34,25,-20,22, 27,-22,20,-25,18, -20,24,-22,-30,25,
          -20,22,-24,18,-25, 26,-20,22,-18,25, -22,20,-25,-42,38, -20,25,32,-35,22,
          -25,20,-22,18,-20, 15,-13,14,-12,13, -14,12,-15,13,-10, 14,-27,12,-13,14]
RIVT_F1 = [-4,8,33,-20,30, -25,28,-30,-45,25, 33,-28,30,-22,32, -25,20,-30,33,-20,
           45,-58,30,-35,25, -20,22,-15,18,-17, 15,-18,14,-16,19, -14,17,-15,18,-16]
RIVT_F2 = [20,-25,30,-35,-45, 25,35,-30,57,-45, 40,-30,38,-40,30, -25,74,-35,30,-28,
           35,-58,30,-25,28, -30,45,-25,22,-20, 18,-16,20,-15,17, -19,16,-14,18,-15]

# start time (s) of each fine reading
FINE = {
    "OCHT": [(25.4, OCHT_F)], "KOGO": [(25.8, KOGO_F)], "OMED": [(25.8, OMED_F)],
    "PROB": [(26.4, PROB_F)], "BHE": [(26.6, BHE_F)], "PYRM": [(26.6, PYRM_F)],
    "BGG": [(27.0, BGG_F)], "RHEN": [(27.2, RHEN_F)], "BEDO": [(27.0, BEDO_F)],
    "GLOK": [(27.2, GLOK_F)], "LAGB": [(27.2, LAGB_F)], "BEMS": [(28.0, BEMS_F)],
    "KOE": [(28.2, KOE_F)], "AHRW": [(28.6, AHRW_F)], "BEUR": [(30.0, BEUR_F)],
    "RIVT": [(37.0, RIVT_F1), (49.4, RIVT_F2)],
}

TRACES = [OCHT, KOGO, OMED, PROB, BHE, PYRM, BGG, RHEN,
          BEDO, GLOK, LAGB, BEMS, KOE, AHRW, BEUR, RIVT]


def build_trace(vals, windows):
    t = np.linspace(0, T_END, len(vals))
    v = np.asarray(vals, dtype=float)
    for t0, fv in windows:
        tf = t0 + DT_FINE * np.arange(len(fv))
        keep = (t < t0 - 1e-9) | (t > tf[-1] + 1e-9)
        t = np.concatenate([t[keep], tf])
        v = np.concatenate([v[keep], np.asarray(fv, dtype=float)])
        order = np.argsort(t, kind="stable")
        t, v = t[order], v[order]
    return t, v


plt.rcParams["font.family"] = ["Liberation Sans", "DejaVu Sans"]

W, H = 2005, 2802
fig = plt.figure(figsize=(W / 100, H / 100), dpi=100)
left_px, right_px, top_px, panel_px = 173, 1973, 109, 160

n = len(STATIONS)
for i, (name, vals) in enumerate(zip(STATIONS, TRACES)):
    y_top = top_px + panel_px * i
    ax = fig.add_axes([left_px / W, 1 - (y_top + panel_px) / H,
                       (right_px - left_px) / W, panel_px / H])
    t, v = build_trace(vals, FINE.get(name, []))
    ax.plot(t, v, color="black", lw=1.1)
    ax.set_xlim(0, T_END)
    ax.set_ylim(-80, 80)
    ax.set_yticks([])
    ax.set_xticks(XTICKS)
    ax.tick_params(axis="x", direction="in", length=4, width=1.4,
                   labelsize=23.5, pad=7, labelbottom=(i == n - 1))
    for s in ax.spines.values():
        s.set_linewidth(1.5)
    ax.annotate(name, xy=(0, 0.5), xycoords="axes fraction",
                xytext=(-15, 0), textcoords="offset points",
                ha="right", va="center_baseline", fontsize=26.5)
    if i == n - 1:
        ax.set_xlabel(XLABEL, fontsize=26, fontweight="bold", labelpad=10)

fig.text(1080 / W, 1 - 82 / H, TITLE, ha="center", va="center",
         fontsize=24.5, fontweight="bold")

fig.savefig("out.png", dpi=100)
